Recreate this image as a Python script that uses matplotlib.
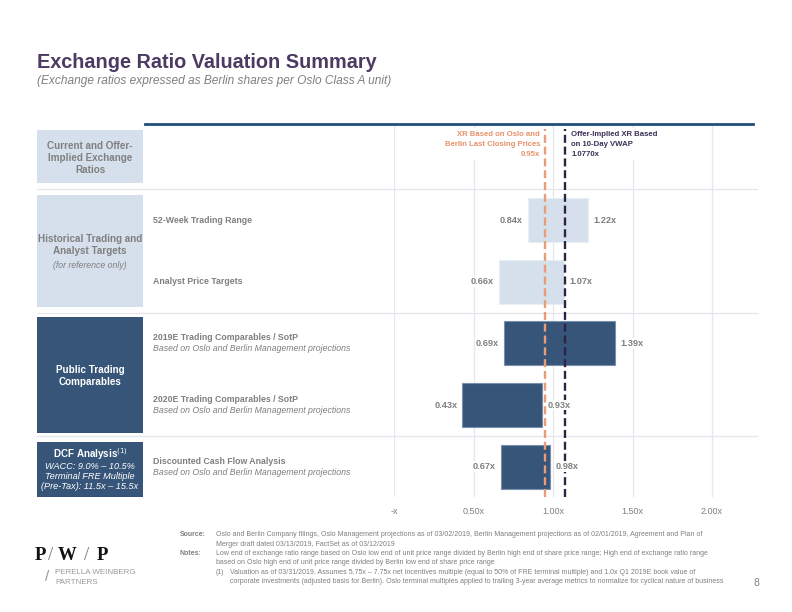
import numpy as np
import matplotlib
matplotlib.use("Agg")
import matplotlib.pyplot as plt
from matplotlib.patches import Rectangle
from matplotlib.lines import Line2D
import matplotlib.transforms as mtransforms

plt.rc("font", family=["Liberation Sans", "DejaVu Sans"])

# data
rows = [
    "52-Week Trading Range",
    "Analyst Price Targets",
    "2019E Trading Comparables / SotP",
    "2020E Trading Comparables / SotP",
    "Discounted Cash Flow Analysis",
]
row_notes = [
    "",
    "",
    "Based on Oslo and Berlin Management projections",
    "Based on Oslo and Berlin Management projections",
    "Based on Oslo and Berlin Management projections",
]
low = [0.84, 0.66, 0.69, 0.43, 0.67]
high = [1.22, 1.07, 1.39, 0.93, 0.98]
shade = ["light", "light", "dark", "dark", "dark"]
current_xr = 0.95
offer_xr = 1.077
xticks = [0.0, 0.5, 1.0, 1.5, 2.0]
xtick_labels = ["-x", "0.50x", "1.00x", "1.50x", "2.00x"]

GRAY = "#7F7F7F"
LIGHT = "#D6E0EC"
DARK = "#375579"
TITLE = "#4B3A62"
ORANGE = "#EA9C76"
NAVY = "#2D2442"
GRID = "#E4E7EE"

W, H = 792, 612


def fx(x):
    return x / W


def fy(y):
    return 1 - y / H


fig = plt.figure(figsize=(7.92, 6.12), dpi=100)

# title
fig.text(fx(37), fy(62), "Exchange Ratio Valuation Summary", fontsize=14.3,
         fontweight="bold", color=TITLE, va="center")
fig.text(fx(37), fy(81), "(Exchange ratios expressed as Berlin shares per Oslo Class A unit)",
         fontsize=8.6, style="italic", color=GRAY, va="center")

# main axes
x0, x1, y0, y1 = 394, 757, 125, 497
ax = fig.add_axes([fx(x0), fy(y1), (x1 - x0) / W, (y1 - y0) / H])
ax.set_xlim(0, (x1 - x0) / 159.0)
ax.set_ylim(4.49, -1.54)
for s in ax.spines.values():
    s.set_visible(False)
ax.set_xticks(xticks)
ax.set_xticklabels(xtick_labels)
ax.tick_params(axis="x", length=0, pad=7, labelsize=6.5, labelcolor=GRAY)
ax.set_yticks([])
ax.grid(axis="x", color=GRID, lw=0.9, zorder=0)
ax.set_axisbelow(True)

# separators
for yy in [-0.5, 1.5, 3.5]:
    ax.axhline(yy, xmin=(37 - x0) / (x1 - x0), xmax=1, clip_on=False,
               color=GRID, lw=0.9, zorder=1)

# bars
lab_box = dict(fc="white", ec="none", pad=0.6)
for i in range(len(rows)):
    if shade[i] == "light":
        fc, ec = LIGHT, "#E8EEF5"
    else:
        fc, ec = DARK, "#7890AE"
    ax.barh(i, high[i] - low[i], left=low[i], height=0.71, color=fc,
            edgecolor=ec, lw=0.8, zorder=2)
    ax.annotate("%.2fx" % low[i], (low[i], i), xytext=(-3.5, 0),
                textcoords="offset points", ha="right", va="center",
                fontsize=6.6, fontweight="bold", color=GRAY, zorder=5,
                bbox=lab_box)
    ax.annotate("%.2fx" % high[i], (high[i], i), xytext=(4, 0),
                textcoords="offset points", ha="left", va="center",
                fontsize=6.6, fontweight="bold", color=GRAY, zorder=5,
                bbox=lab_box)

# reference lines
ax.axvline(current_xr, ymin=0, ymax=0.99, color=ORANGE, lw=1.7,
           dashes=(3.4, 1.6), zorder=3)
ax.axvline(offer_xr, ymin=0, ymax=0.99, color=NAVY, lw=1.7,
           dashes=(3.4, 1.6), zorder=3)
ax.text(current_xr, -1.45, "XR Based on Oslo and\nBerlin Last Closing Prices\n%.2fx" % current_xr,
        transform=mtransforms.offset_copy(ax.transData, fig=fig, x=-5, y=0, units="dots"),
        ha="right", va="top", multialignment="right", fontsize=5.6,
        fontweight="bold", color="#E8916A", linespacing=1.6,
        bbox=dict(fc="white", ec="none", pad=1.5), zorder=4)
ax.text(offer_xr, -1.45, "Offer-Implied XR Based\non 10-Day VWAP\n%.4fx" % offer_xr,
        transform=mtransforms.offset_copy(ax.transData, fig=fig, x=6, y=0, units="dots"),
        ha="left", va="top", fontsize=5.6, fontweight="bold", color="#3B2F55",
        linespacing=1.6, bbox=dict(fc="white", ec="none", pad=1.5), zorder=4)

# top rule
fig.add_artist(Line2D([fx(145), fx(753)], [fy(124), fy(124)], color="#1F4E79", lw=2))

# row labels
tr = mtransforms.blended_transform_factory(fig.transFigure, ax.transData)
for i in range(len(rows)):
    if row_notes[i]:
        ax.text(fx(153), i - 0.09, rows[i], transform=tr, ha="left", va="center",
                fontsize=6.3, fontweight="bold", color=GRAY, clip_on=False)
        ax.text(fx(153), i + 0.09, row_notes[i], transform=tr, ha="left", va="center",
                fontsize=6.3, style="italic", color=GRAY, clip_on=False)
    else:
        ax.text(fx(153), i, rows[i], transform=tr, ha="left", va="center",
                fontsize=6.3, fontweight="bold", color=GRAY, clip_on=False)

# left boxes
boxes = [(130, 183, LIGHT), (195, 307, LIGHT), (317, 433, DARK), (442, 497, DARK)]
for top, bot, c in boxes:
    fig.add_artist(Rectangle((fx(37), fy(bot)), (143 - 37) / W, (bot - top) / H,
                             transform=fig.transFigure, fc=c, ec="none"))
cx = fx(90)
fig.text(cx, fy(158), "Current and Offer-\nImplied Exchange\nRatios", ha="center",
         va="center", fontsize=7.1, fontweight="bold", color=GRAY, linespacing=1.25)
fig.text(cx, fy(245), "Historical Trading and\nAnalyst Targets", ha="center",
         va="center", fontsize=7.1, fontweight="bold", color=GRAY, linespacing=1.25)
fig.text(cx, fy(266), "(for reference only)", ha="center", va="center",
         fontsize=6.3, style="italic", color=GRAY)
fig.text(cx, fy(376), "Public Trading\nComparables", ha="center", va="center",
         fontsize=7.1, fontweight="bold", color="white", linespacing=1.25)
fig.text(cx, fy(454), "DCF Analysis$^{(1)}$", ha="center", va="center",
         fontsize=7.1, fontweight="bold", color="white")
fig.text(cx, fy(476.5), "WACC: 9.0% \u2013 10.5%\nTerminal FRE Multiple\n(Pre-Tax): 11.5x \u2013 15.5x",
         ha="center", va="center", fontsize=6.6, style="italic", color="white",
         linespacing=1.18)

# footnotes
fn = 5.0
fy_lines = [535, 544.3, 553.6, 562.9, 572.2, 581.5]
fig.text(fx(180), fy(fy_lines[0]), "Source:", fontsize=fn, fontweight="bold", color=GRAY, va="center")
fig.text(fx(180), fy(fy_lines[2]), "Notes:", fontsize=fn, fontweight="bold", color=GRAY, va="center")
foot = [
    (216, "Oslo and Berlin Company filings, Oslo Management projections as of 03/02/2019, Berlin Management projections as of 02/01/2019, Agreement and Plan of"),
    (216, "Merger draft dated 03/13/2019, FactSet as of 03/12/2019"),
    (216, "Low end of exchange ratio range based on Oslo low end of unit price range divided by Berlin high end of share price range; High end of exchange ratio range"),
    (216, "based on Oslo high end of unit price range divided by Berlin low end of share price range"),
    (216, "(1)"),
    (230, "corporate investments (adjusted basis for Berlin). Oslo terminal multiples applied to trailing 3-year average metrics to normalize for cyclical nature of business"),
]
for (xx, t), yy in zip(foot, fy_lines):
    fig.text(fx(xx), fy(yy), t, fontsize=fn, color=GRAY, va="center")
fig.text(fx(230), fy(fy_lines[4]),
         "Valuation as of 03/31/2019. Assumes 5.75x \u2013 7.75x net incentives multiple (equal to 50% of FRE terminal multiple) and 1.0x Q1 2019E book value of",
         fontsize=fn, color=GRAY, va="center")
fig.text(fx(753), fy(583), "8", fontsize=7.5, color=GRAY, va="center")

# logo
for xx, ch, wt, col in [(35, "P", "bold", "#111111"), (48, "/", "normal", "#777777"),
                        (58, "W", "bold", "#111111"), (84, "/", "normal", "#777777"),
                        (97, "P", "bold", "#111111")]:
    fig.text(fx(xx), fy(555), ch, fontsize=13.5, fontweight=wt,
             family="Liberation Serif", color=col, va="center")
fig.text(fx(45), fy(577), "/", fontsize=11, color="#9A9A9A", va="center")
fig.text(fx(55), fy(573), "PERELLA WEINBERG", fontsize=5.8, color="#9A9A9A", va="center")
fig.text(fx(55), fy(583), "PARTNERS", fontsize=5.8, color="#9A9A9A", va="center")

fig.savefig("out.png", dpi=100)
